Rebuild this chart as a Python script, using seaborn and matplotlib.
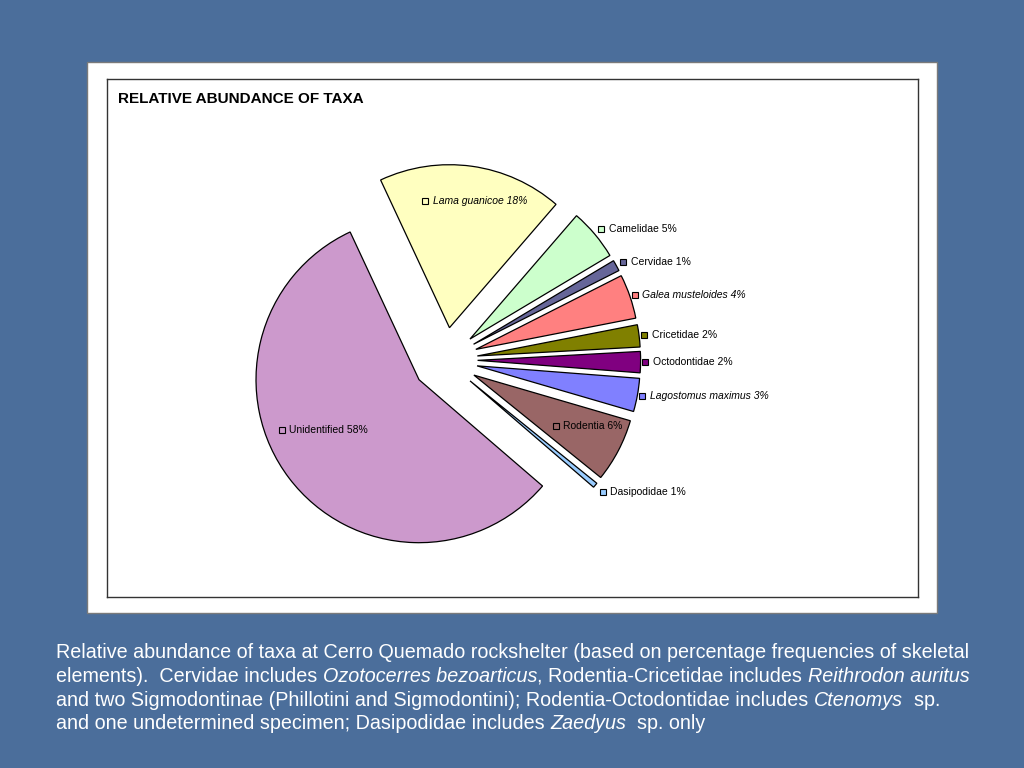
import matplotlib
matplotlib.use("Agg")
import numpy as np
import matplotlib.pyplot as plt
from matplotlib.patches import Rectangle
import seaborn as sns

# slice data (clockwise from the top)
taxa = ["Lama guanicoe", "Camelidae", "Cervidae", "Galea musteloides", "Cricetidae",
        "Octodontidae", "Lagostomus maximus", "Rodentia", "Dasipodidae", "Unidentified"]
shares = [18.3, 5.1, 1.1, 4.4, 2.2, 2.1, 3.3, 6.3, 0.5, 56.8]
pct_labels = ["18%", "5%", "1%", "4%", "2%", "2%", "3%", "6%", "1%", "58%"]
italic_taxa = ["Lama guanicoe", "Galea musteloides", "Lagostomus maximus"]
slice_colors = ["#FFFFC0", "#CCFFCC", "#666699", "#FF8080", "#808000",
                "#800080", "#8080FF", "#996666", "#99CCFF", "#CC99CC"]

title = "RELATIVE ABUNDANCE OF TAXA"
caption_lines = [
    [("Relative abundance of taxa at Cerro Quemado rockshelter (based on percentage frequencies of skeletal", False)],
    [("elements).  Cervidae includes ", False), ("Ozotocerres bezoarticus", True),
     (", Rodentia-Cricetidae includes ", False), ("Reithrodon auritus", True)],
    [("and two Sigmodontinae (Phillotini and Sigmodontini); Rodentia-Octodontidae includes ", False),
     ("Ctenomys", True), ("  sp.", False)],
    [("and one undetermined specimen; Dasipodidae includes ", False), ("Zaedyus", True), ("  sp. only", False)],
]

# label placement: distance from pie centre and angle shift from the wedge bisector
label_r = [0.98, 1.25, 1.25, 1.23, 1.23, 1.23, 1.23, 0.79, 1.26, 1.09]
label_shift = [15, 0, 0, 0, 0, 0, 0, -3, 0, -14]

sns.set_theme(style="white")
plt.rcParams["font.family"] = ["Liberation Sans", "DejaVu Sans"]

W, H = 1024, 768
fig = plt.figure(figsize=(W / 100, H / 100), dpi=100)
fig.patch.set_facecolor("#4b6e9b")


def fx(px):
    return px / W


def fy(py):
    return 1 - py / H


# white chart panel
fig.add_artist(Rectangle((fx(87), fy(613)), fx(937) - fx(87), fy(62) - fy(613),
                         transform=fig.transFigure, facecolor="white",
                         edgecolor="#7a7a7a", lw=1.0, zorder=0))

# plot area, pie radius 163 px centred at (445, 360)
cx, cy, rad = 445, 360, 163
ax = fig.add_axes([fx(107), fy(597), fx(918) - fx(107), fy(79) - fy(597)])
wedges, _ = ax.pie(shares, colors=slice_colors, explode=[0.2] * len(shares),
                   startangle=115, counterclock=False, radius=1,
                   wedgeprops=dict(edgecolor="black", linewidth=0.9))
ax.set_xlim((107 - cx) / rad, (918 - cx) / rad)
ax.set_ylim(-(597 - cy) / rad, (cy - 79) / rad)
ax.set_aspect("auto")
ax.set_frame_on(True)
ax.set_xticks([])
ax.set_yticks([])
for sp in ax.spines.values():
    sp.set_visible(True)
    sp.set_color("#333333")
    sp.set_linewidth(1.0)

for w, name, pct, col, r, sh in zip(wedges, taxa, pct_labels, slice_colors, label_r, label_shift):
    mid = np.deg2rad((w.theta1 + w.theta2) / 2 + sh)
    lx, ly = r * np.cos(mid), r * np.sin(mid)
    ax.plot(lx, ly, marker="s", ms=5, mfc=col, mec="black", mew=0.8, ls="none")
    ax.annotate(f"{name} {pct}", (lx, ly), xytext=(5.5, 0), textcoords="offset points",
                ha="left", va="center", fontsize=7.5, color="black",
                style="italic" if name in italic_taxa else "normal")

fig.text(fx(118), fy(99), title, fontsize=11, fontweight="bold", color="black",
         ha="left", va="center")

# caption with mixed upright / italic runs
renderer = fig.canvas.get_renderer()
cap_size = 14.2


def run_width(txt, italic):
    style = "italic" if italic else "normal"
    t1 = fig.text(0, 0, txt + "|", fontsize=cap_size, style=style)
    t2 = fig.text(0, 0, "|", fontsize=cap_size, style=style)
    wpx = t1.get_window_extent(renderer).width - t2.get_window_extent(renderer).width
    t1.remove()
    t2.remove()
    return wpx


baselines = [658, 682, 706, 729]
for parts, base in zip(caption_lines, baselines):
    x = 56
    for txt, italic in parts:
        fig.text(fx(x), fy(base), txt, fontsize=cap_size, color="white",
                 style="italic" if italic else "normal", ha="left", va="baseline")
        x += run_width(txt, italic)

fig.savefig("out.png", dpi=100, facecolor=fig.get_facecolor())
